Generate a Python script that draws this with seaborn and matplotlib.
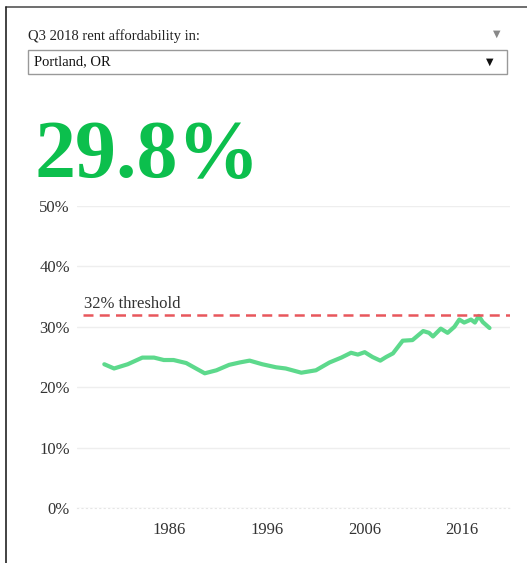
import matplotlib.pyplot as plt
import matplotlib.patches as patches
import pandas as pd
import seaborn as sns

# rent affordability (% of income)
years = [1979.3, 1980.3, 1981.7, 1983.2, 1984.4, 1985.4, 1986.4, 1987.7, 1988.7, 1989.6,
         1990.8, 1992.1, 1993.2, 1994.2, 1995.5, 1996.9, 1997.9, 1999.5, 2001.0, 2002.4,
         2003.6, 2004.6, 2005.3, 2006.0, 2006.8, 2007.6, 2008.2, 2008.9, 2009.9, 2010.9,
         2012.0, 2012.6, 2013.0, 2013.8, 2014.5, 2015.2, 2015.7, 2016.2, 2016.9, 2017.3,
         2017.7, 2018.1, 2018.8]
share = [23.8, 23.1, 23.8, 24.9, 24.9, 24.5, 24.5, 24.0, 23.1, 22.3,
         22.8, 23.7, 24.1, 24.4, 23.8, 23.3, 23.1, 22.4, 22.8, 24.1,
         24.9, 25.7, 25.4, 25.8, 25.0, 24.4, 25.0, 25.6, 27.7, 27.8,
         29.3, 29.0, 28.4, 29.7, 29.0, 30.0, 31.2, 30.7, 31.2, 30.7,
         31.8, 30.8, 29.8]
threshold = 32
y_ticks = [0, 10, 20, 30, 40, 50]
x_ticks = [1986, 1996, 2006, 2016]

df = pd.DataFrame({'year': years, 'share': share})

sns.set_style('white')
plt.rcParams['font.family'] = ['Liberation Serif', 'DejaVu Serif']

W, H = 527, 563
fig = plt.figure(figsize=(W / 100, H / 100), dpi=100)

# card border (top and left)
fig.add_artist(plt.Line2D([6 / W, 1], [1 - 7 / H, 1 - 7 / H], color='#555555', lw=1.2))
fig.add_artist(plt.Line2D([6 / W, 6 / W], [0, 1 - 7 / H], color='#222222', lw=1.2))

# header and dropdown
fig.text(28 / W, 1 - 36 / H, 'Q3 2018 rent affordability in:', fontsize=10.5,
         color='#222222', va='center')
fig.text(497 / W, 1 - 34 / H, '\u25bc', fontsize=7, color='#888888', va='center',
         ha='center', family='DejaVu Sans')
fig.add_artist(patches.Rectangle((28 / W, 1 - 74 / H), 479 / W, 24 / H,
                                 transform=fig.transFigure, fill=False,
                                 edgecolor='#999999', lw=1))
fig.text(34 / W, 1 - 62 / H, 'Portland, OR', fontsize=10.5, color='#111111', va='center')
fig.text(490 / W, 1 - 62 / H, '\u25bc', fontsize=7, color='#111111', va='center',
         ha='center', family='DejaVu Sans')

# big current value
fig.text(35 / W, 1 - 177 / H, f'{share[-1]:.1f}%', fontsize=59, fontweight='bold',
         color='#0cbf4d', va='baseline')

ax = fig.add_axes([77 / W, 1 - 508 / H, 433 / W, 302 / H])
sns.lineplot(data=df, x='year', y='share', ax=ax, color='#5dd98c', lw=3.0,
             solid_capstyle='round')
ax.axhline(threshold, xmin=6 / 433, xmax=1, color='#e8575c', lw=1.8, ls=(0, (4, 2.5)))
ax.text(1977.2, threshold + 0.5, '32% threshold', fontsize=12, color='#333333',
        va='bottom')

ax.set_xlim(1976.5, 2020.9)
ax.set_ylim(0, 50)
ax.set_yticks(y_ticks)
ax.set_yticklabels([f'{v}%' for v in y_ticks])
ax.set_xticks(x_ticks)
ax.set_xticklabels([str(v) for v in x_ticks])
ax.tick_params(axis='both', labelsize=12, labelcolor='#333333', length=0)
ax.tick_params(axis='y', pad=5)
ax.tick_params(axis='x', pad=10)
ax.grid(axis='y', color='#eeeeee', lw=1)
ax.set_xlabel('')
ax.set_ylabel('')
for s in ax.spines.values():
    s.set_visible(False)
ax.spines['bottom'].set_visible(True)
ax.spines['bottom'].set_color('#e6e6e6')
ax.spines['bottom'].set_linestyle((0, (1, 3)))

fig.savefig('out.png', dpi=100)
